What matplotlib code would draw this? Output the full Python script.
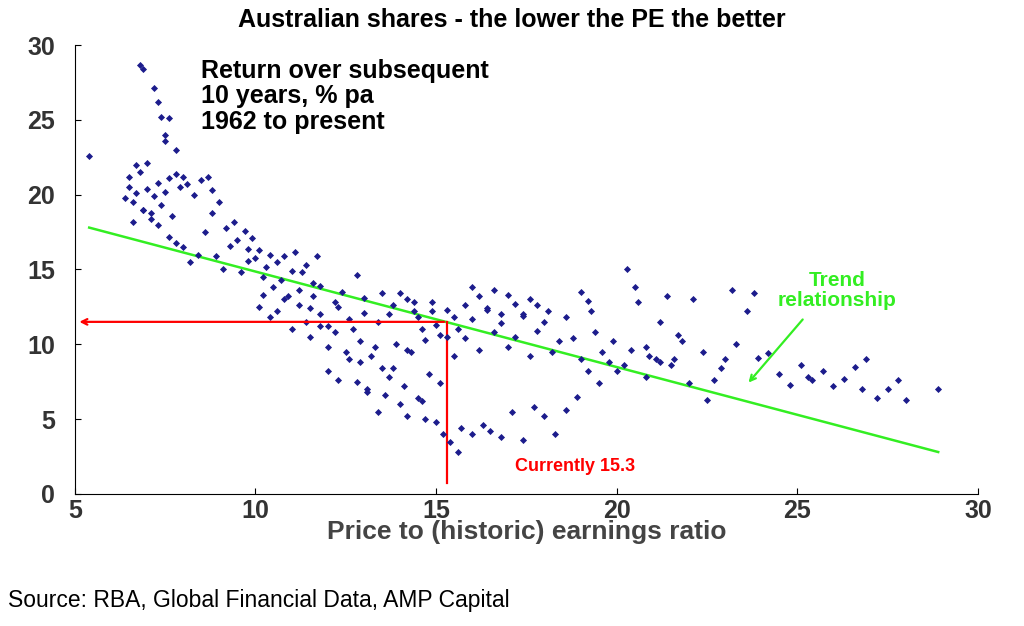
import matplotlib
matplotlib.use("Agg")
import matplotlib.pyplot as plt

plt.rcParams['font.family'] = ['Liberation Sans', 'DejaVu Sans']

pe = [5.4,6.8,6.9,7.2,7.3,7.4,7.5,7.6,7.5,7.8,
 6.4,6.5,6.5,6.6,6.7,6.7,6.8,6.9,7.0,7.0,7.1,7.2,7.3,7.4,7.5,7.6,7.7,7.8,7.9,8.0,8.1,8.3,8.5,8.7,8.8,
 6.6,6.9,7.1,7.3,7.6,7.8,8.0,8.2,8.4,8.6,8.8,9.0,9.2,9.4,9.5,9.7,9.8,9.9,
 8.9,9.1,9.3,9.6,9.8,10.0,10.1,10.2,10.3,10.4,10.5,10.6,10.7,10.8,10.9,11.0,11.1,11.2,11.3,11.4,11.5,11.6,11.7,11.8,
 10.1,10.2,10.4,10.6,10.8,11.0,11.2,11.4,11.6,11.8,12.0,12.2,12.4,12.6,12.8,13.0,
 11.5,11.8,12.0,12.2,12.3,12.5,12.7,12.9,13.0,13.2,13.4,13.5,13.7,13.9,14.0,14.2,14.4,14.5,14.7,14.9,15.0,
 12.0,12.3,12.6,12.9,13.1,13.3,13.6,13.8,14.1,14.3,14.6,14.8,15.1,15.3,15.5,
 12.8,13.1,13.4,13.7,14.0,14.2,14.5,14.7,15.0,15.2,15.4,15.6,
 13.5,13.8,14.2,14.4,14.6,14.9,15.1,15.3,15.5,15.8,16.0,16.2,16.4,16.6,16.8,17.0,17.2,17.4,17.6,17.8,18.1,
 15.6,15.8,16.0,16.2,16.4,16.6,16.8,17.0,17.2,17.4,17.6,17.8,18.0,18.2,18.4,18.6,18.8,19.0,19.2,19.4,
 15.7,16.0,16.3,16.5,16.8,17.1,17.4,17.7,18.0,18.3,18.6,18.9,19.2,19.5,19.8,
 19.0,19.3,19.6,19.9,20.2,20.5,20.8,21.1,21.4,21.7,20.0,20.4,20.8,21.2,21.6,22.0,
 20.3,20.6,20.9,21.2,21.5,21.8,22.1,22.4,22.7,23.0,23.3,23.6,22.5,22.9,23.2,23.9,
 23.8,24.2,24.5,24.8,25.1,25.4,25.7,26.0,26.3,26.6,26.9,27.2,27.5,27.8,28.0,28.9,25.3,26.8]
ret = [22.6,28.7,28.4,27.1,26.2,25.2,24.0,25.1,23.6,23.0,
 19.8,21.2,20.5,19.5,22.0,20.1,21.5,19.0,22.1,20.4,18.4,19.9,20.8,19.3,20.2,21.1,18.6,21.4,20.5,21.2,20.7,20.0,21.0,21.2,20.3,
 18.2,19.0,18.8,18.0,17.2,16.8,16.5,15.5,16.0,17.5,18.8,19.5,17.8,18.2,17.0,17.6,16.4,17.1,
 15.9,15.0,16.6,14.8,15.6,15.8,16.3,14.5,15.2,16.0,13.8,15.5,14.3,15.9,13.2,14.9,16.2,13.6,14.8,15.3,12.4,14.1,15.9,13.9,
 12.5,13.3,11.8,12.2,13.0,11.0,12.6,11.5,13.2,12.0,11.2,12.8,13.5,11.7,14.6,12.1,
 10.5,11.2,9.8,10.8,12.5,9.5,11.0,10.2,13.1,9.2,11.5,8.4,12.0,10.0,13.4,9.6,12.8,11.8,10.3,12.2,11.3,
 8.2,7.6,9.0,8.8,7.0,9.8,6.6,8.4,7.2,9.5,6.2,8.0,7.4,10.5,9.2,
 7.5,6.8,5.5,7.8,6.0,5.2,6.4,5.0,4.8,4.0,3.5,2.8,
 13.4,12.6,13.0,12.2,11.0,12.8,10.6,12.3,11.8,12.6,13.8,13.2,12.4,13.6,12.0,13.3,12.7,11.9,13.0,12.6,12.2,
 11.0,10.4,11.7,9.6,12.3,10.8,11.4,9.8,10.5,12.0,9.2,10.9,11.5,9.5,10.2,11.8,10.4,9.0,12.9,10.8,
 4.4,4.0,4.6,4.2,3.8,5.5,3.6,5.8,5.2,4.0,5.6,6.5,8.2,7.4,8.8,
 13.5,12.2,9.5,10.2,8.6,13.8,9.8,9.0,13.2,10.6,8.2,9.6,7.8,8.8,9.0,7.4,
 15.0,12.8,9.2,11.5,8.6,10.2,13.0,9.5,7.6,9.0,10.0,12.2,6.3,8.4,13.6,9.1,
 13.4,9.4,8.0,7.3,8.6,7.6,8.2,7.2,7.7,8.5,9.0,6.4,7.0,7.6,6.3,7.0,7.8,7.0]

trend_x = [5.4, 28.9]
trend_y = [17.8, 2.8]
current_pe = 15.3
current_ret = 11.5

green = '#33ee22'
fig = plt.figure(figsize=(10.24, 6.26), dpi=100)
ax = fig.add_axes([0.073, 0.211, 0.882, 0.717])
ax.scatter(pe, ret, marker='D', s=13, color='#1c1c8c', zorder=3, linewidths=0)
ax.plot(trend_x, trend_y, color=green, lw=1.8, zorder=2)
ax.annotate('', xy=(5.05, current_ret), xytext=(current_pe, current_ret),
            arrowprops=dict(arrowstyle='->', color='red', lw=1.6))
ax.plot([current_pe, current_pe], [current_ret, 0.7], color='red', lw=1.6)
ax.text(17.2, 1.8, 'Currently 15.3', color='red', fontsize=13, fontweight='bold', va='center')
ax.annotate('', xy=(23.6, 7.3), xytext=(25.2, 11.8),
            arrowprops=dict(arrowstyle='->', color=green, lw=1.6))
ax.text(26.1, 13.6, 'Trend\nrelationship', color=green, fontsize=15, fontweight='bold',
        ha='center', va='center', linespacing=1.1)
ax.text(0.14, 0.97, 'Return over subsequent\n10 years, % pa\n1962 to present', transform=ax.transAxes,
        fontsize=18, fontweight='bold', va='top', linespacing=1.1)

ax.set_xlim(5, 30)
ax.set_ylim(0, 30)
ax.set_xticks([5, 10, 15, 20, 25, 30])
ax.set_yticks([0, 5, 10, 15, 20, 25, 30])
ax.tick_params(labelsize=18, direction='in', length=4)
ax.tick_params(axis='y', pad=14)
for l in ax.get_xticklabels() + ax.get_yticklabels():
    l.set_fontweight('bold'); l.set_color('#333333')
for s in ['top', 'right']:
    ax.spines[s].set_visible(False)
ax.set_xlabel('Price to (historic) earnings ratio', fontsize=19, fontweight='bold', color='#444444', labelpad=-2)
fig.text(0.5, 0.968, 'Australian shares - the lower the PE the better', ha='center', va='center',
         fontsize=18, fontweight='bold')
fig.text(0.008, 0.04, 'Source: RBA, Global Financial Data, AMP Capital', fontsize=16.5, va='center')
fig.savefig('out.png', dpi=100)
